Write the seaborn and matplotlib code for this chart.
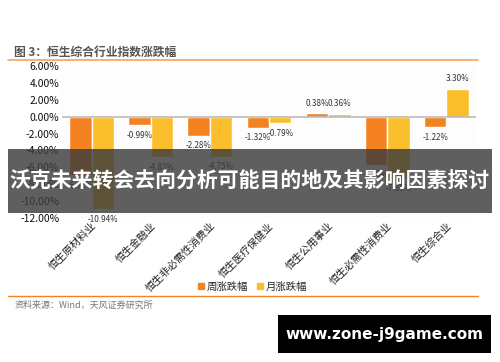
import matplotlib
matplotlib.use("Agg")
import matplotlib.pyplot as plt
import seaborn as sns
import pandas as pd
from matplotlib.patches import Rectangle
from matplotlib.lines import Line2D

# data
categories = ["恒生原材料业", "恒生金融业", "恒生非必需性消费业", "恒生医疗保健业",
              "恒生公用事业", "恒生必需性消费业", "恒生综合业"]
weekly = [-6.92, -0.99, -2.28, -1.32, 0.38, -5.70, -1.22]
monthly = [-10.94, -4.82, -4.75, -0.79, 0.36, -7.35, 3.30]
series = ["周涨跌幅", "月涨跌幅"]
colors = ["#F58220", "#FBBE2C"]

df = pd.DataFrame({
    "cat": categories * 2,
    "val": weekly + monthly,
    "series": [series[0]] * len(categories) + [series[1]] * len(categories),
})

sns.set_style("white")
plt.rcParams["font.family"] = ["Noto Sans CJK SC", "DejaVu Sans"]

W, H = 500, 362
fig = plt.figure(figsize=(5, 3.62), dpi=100)

def fx(px):
    return px / W

def fy(py):
    return 1 - py / H

ax = fig.add_axes([fx(62), fy(218), fx(476) - fx(62), fy(66) - fy(218)])
ax.set_facecolor("#fdfdfd")

sns.barplot(data=df, x="cat", y="val", hue="series", palette=colors,
            width=0.76, ax=ax, legend=False, saturation=1)

for cont in ax.containers:
    ax.bar_label(cont, labels=[f"{v:.2f}%" for v in cont.datavalues],
                 padding=4, fontsize=5.8, color="#333333")

ax.set_ylim(-12, 6)
ax.set_xlim(-0.5, 6.5)
ax.set_yticks(range(-12, 7, 2))
ax.set_yticklabels([f"{v:.2f}%" for v in range(-12, 7, 2)], fontsize=7.5, color="#111111")
ax.set_xticks(range(len(categories)))
ax.set_xticklabels(categories, rotation=45, ha="right", rotation_mode="anchor",
                   fontsize=7.5, color="#222222")
ax.tick_params(axis="both", length=0, pad=2)
ax.axhline(0, color="#bbbbbb", lw=1.2)
for s in ax.spines.values():
    s.set_visible(False)
ax.set_xlabel("")
ax.set_ylabel("")

# legend
handles = [Line2D([], [], marker="s", color=c, ls="", markersize=4) for c in colors]
fig.legend(handles, series, loc="center", bbox_to_anchor=(fx(252), fy(287)),
           ncol=2, frameon=False, fontsize=7.5, handletextpad=0.1,
           columnspacing=0.8, handlelength=0.8)

# title, rules, source
fig.text(fx(14), fy(52), "图 3：恒生综合行业指数涨跌幅", fontsize=8.5,
         color="#555555", fontweight="bold", va="center")
fig.add_artist(Line2D([fx(8), fx(478)], [fy(60), fy(60)], color="#F7A35C", lw=1.2))
fig.add_artist(Line2D([fx(8), fx(478)], [fy(296), fy(296)], color="#F58220", lw=1.0))
fig.text(fx(15), fy(305), "资料来源：Wind，天风证券研究所", fontsize=6.5,
         color="#777777", va="center")

# overlay banner
fig.add_artist(Rectangle((fx(8), fy(213)), fx(492) - fx(8), fy(149) - fy(213),
                         facecolor="#3c3c3c", alpha=0.82, edgecolor="none"))
fig.text(fx(250), fy(181), "沃克未来转会去向分析可能目的地及其影响因素探讨",
         fontsize=15, color="white", fontweight="bold", ha="center", va="center")

# watermark box
fig.add_artist(Rectangle((fx(278), fy(353)), fx(491) - fx(278), fy(315) - fy(353),
                         facecolor="black", edgecolor="none"))
fig.text(fx(384), fy(334), "www.zone-j9game.com", fontsize=11, color="white",
         fontweight="bold", ha="center", va="center", family="DejaVu Sans")

fig.savefig("out.png", dpi=100)
